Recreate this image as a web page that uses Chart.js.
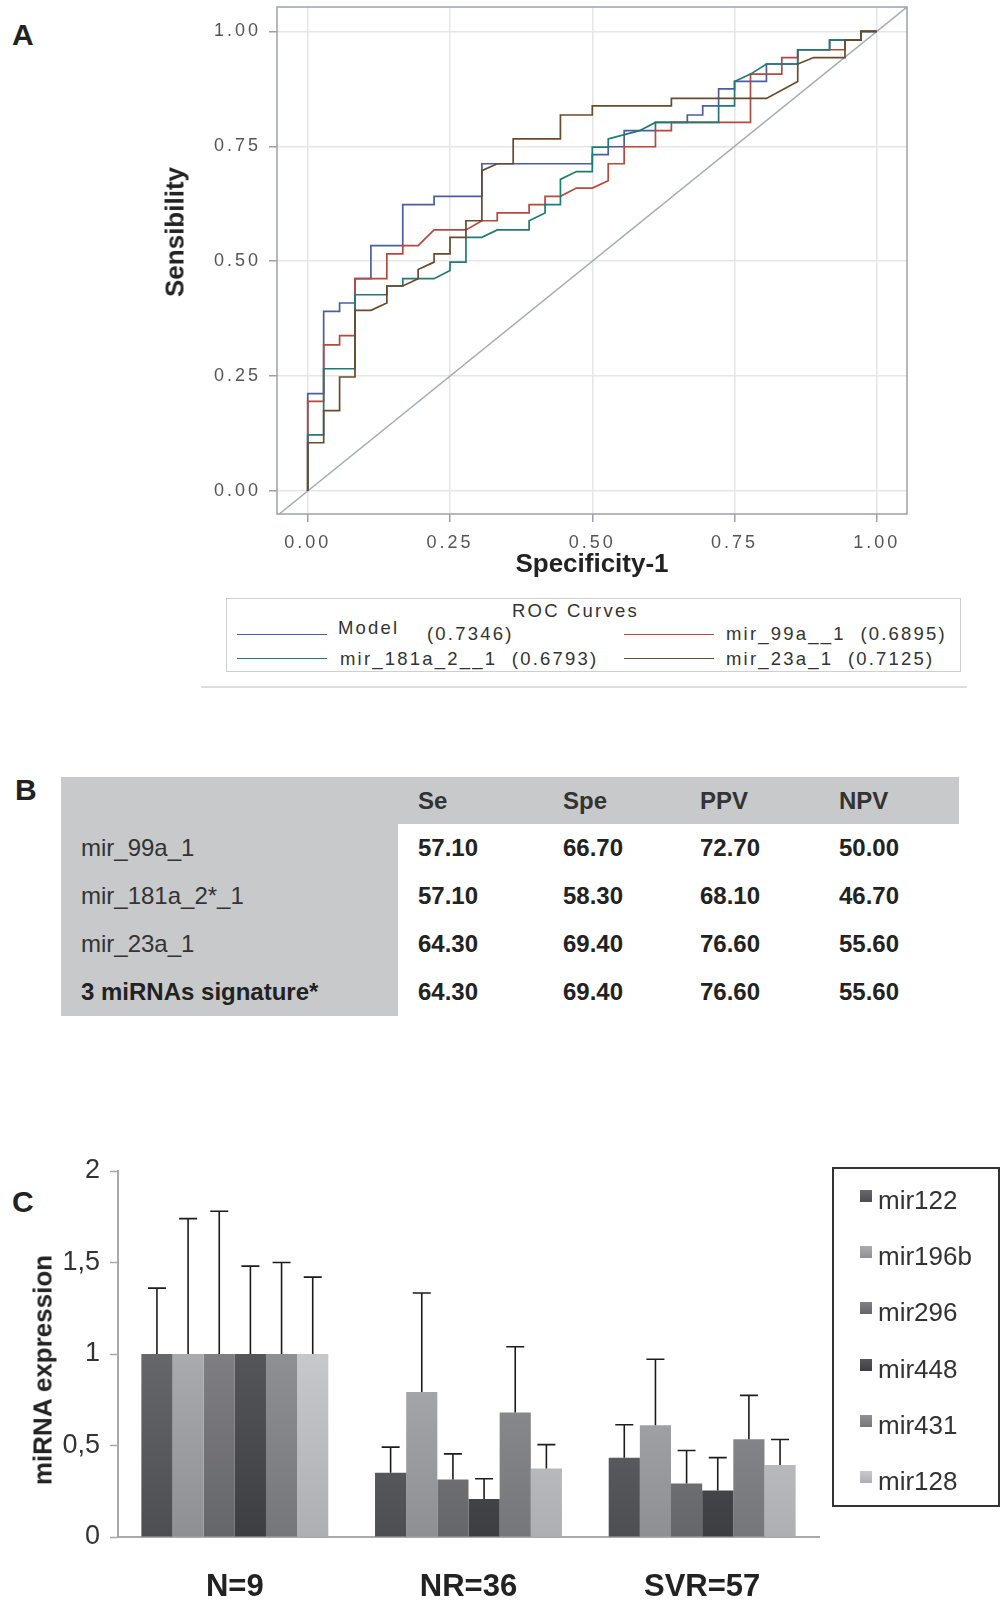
<!DOCTYPE html>
<html lang="en">
<head>
<meta charset="UTF-8">
<title>miRNA ROC curves, performance table and expression</title>
<style>
  body { margin: 0; background: #fff; font-family: "Liberation Sans", Arial, sans-serif; }
  #page { position: relative; width: 1006px; height: 1602px; overflow: hidden; }
  canvas { position: absolute; left: 0; }
  .txt { position: absolute; white-space: nowrap; }
  .letter { font-weight: bold; font-size: 30px; color: #222; line-height: 34px; }
  .vtitle { position: absolute; transform: translate(-50%, -50%) rotate(-90deg); font-weight: bold; color: #222; white-space: nowrap; }
  #perf { position: absolute; left: 61px; top: 777px; width: 898px; border-collapse: collapse; table-layout: fixed; color: #333; font-size: 24px; }
  #perf td { padding: 0 0 0 20px; vertical-align: middle; white-space: nowrap; }
  #perf tr.head td { height: 47px; background: #c8c9cb; font-weight: bold; }
  #perf tr.body td { height: 48px; font-weight: bold; color: #222; }
  #perf tr.body td.lab { background: #c8c9cb; font-weight: normal; color: #333; }
  #perf tr.body td.lab.strong { font-weight: bold; color: #222; }
  #barLegend { position: absolute; left: 832px; top: 1167px; width: 168px; height: 340px; border: 2px solid #333; box-sizing: border-box; }
</style>
<script src="https://cdn.jsdelivr.net/npm/chart.js"></script>
</head>
<body>
<div id="page">
  <div class="txt letter" style="left:12px; top:18px;">A</div>
  <div class="txt letter" style="left:15px; top:773px;">B</div>
  <div class="txt letter" style="left:12px; top:1185px;">C</div>

  <canvas id="rocChart" width="1006" height="595" style="top:0;"></canvas>
  <div class="vtitle" style="left:175px; top:232px; font-size:26px;">Sensibility</div>
  <div id="rocLegend"></div>
  <div style="position:absolute; left:201px; top:686px; width:766px; border-top:2px solid #dedede;"></div>

  <table id="perf"></table>

  <canvas id="barChart" width="1006" height="502" style="top:1100px;"></canvas>
  <div class="vtitle" style="left:43px; top:1370px; font-size:26px;">miRNA expression</div>
  <div id="barLegend"></div>
</div>

<script>
  Chart.defaults.font.family = '"Liberation Sans", Arial, sans-serif';

  // ---- A: ROC curves (false positive rate vs true positive rate)
  const rocNames = ['Model', 'mir_99a__1', 'mir_181a_2__1', 'mir_23a_1'];
  const rocAuc = ['0.7346', '0.6895', '0.6793', '0.7125'];
  const rocColors = ['#4a5da5', '#b8473d', '#1f7b71', '#6a4a2c'];

  const modelFpr = [0, 0, .028, .028, .056, .056, .083, .083, .111, .111, .167, .167, .222, .222, .306, .306, .5, .5, .528, .528, .556, .556, .611, .611, .667, .667, .694, .694, .722, .722, .75, .75, .806, .806, .861, .861, .917, .917, .972, .972, 1];
  const modelTpr = [0, .212, .212, .391, .391, .409, .409, .462, .462, .534, .534, .623, .623, .641, .641, .712, .712, .732, .732, .749, .749, .784, .784, .802, .802, .818, .818, .838, .838, .875, .875, .891, .891, .929, .929, .96, .96, .981, .981, 1, 1];

  const mir99aFpr = [0, 0, .028, .028, .056, .056, .083, .083, .139, .139, .167, .167, .194, .222, .278, .306, .333, .333, .389, .389, .417, .417, .444, .472, .5, .528, .528, .556, .556, .611, .611, .639, .639, .778, .778, .833, .833, .861, .861, .944, .944, .972, .972, 1];
  const mir99aTpr = [0, .195, .195, .318, .318, .338, .338, .462, .462, .516, .516, .534, .534, .568, .568, .588, .588, .605, .605, .623, .623, .641, .641, .659, .659, .675, .712, .712, .749, .749, .784, .784, .802, .802, .907, .907, .943, .943, .96, .96, .981, .981, 1, 1];

  const mir181aFpr = [0, 0, .028, .028, .083, .083, .139, .139, .167, .167, .222, .25, .25, .278, .278, .306, .333, .389, .389, .417, .417, .444, .444, .472, .5, .5, .528, .528, .583, .611, .722, .722, .75, .75, .778, .806, .861, .861, .917, .917, .972, .972, 1];
  const mir181aTpr = [0, .122, .122, .266, .266, .427, .427, .446, .446, .462, .462, .48, .498, .498, .552, .552, .568, .568, .588, .605, .623, .623, .678, .695, .695, .748, .748, .766, .784, .802, .802, .838, .838, .891, .907, .929, .929, .96, .96, .981, .981, 1, 1];

  const mir23aFpr = [0, 0, .028, .028, .056, .056, .083, .083, .111, .139, .139, .167, .194, .194, .222, .222, .25, .25, .278, .278, .306, .306, .333, .361, .361, .444, .444, .5, .5, .639, .639, .806, .861, .861, .889, .944, .944, .972, .972, 1];
  const mir23aTpr = [0, .105, .105, .175, .175, .248, .248, .393, .393, .409, .446, .446, .462, .482, .498, .516, .516, .552, .552, .588, .588, .697, .712, .712, .766, .766, .818, .818, .838, .838, .854, .854, .891, .929, .943, .943, .981, .981, 1, 1];

  const rocFpr = [modelFpr, mir99aFpr, mir181aFpr, mir23aFpr];
  const rocTpr = [modelTpr, mir99aTpr, mir181aTpr, mir23aTpr];
  const rocTicks = [0, 0.25, 0.5, 0.75, 1];
  const rocXRange = [-0.054, 1.053];
  const rocYRange = [-0.05, 1.053];

  // ---- B: performance table
  const perfHeaders = ['Se', 'Spe', 'PPV', 'NPV'];
  const perfRows = ['mir_99a_1', 'mir_181a_2*_1', 'mir_23a_1', '3 miRNAs signature*'];
  const perfSe = ['57.10', '57.10', '64.30', '64.30'];
  const perfSpe = ['66.70', '58.30', '69.40', '69.40'];
  const perfPpv = ['72.70', '68.10', '76.60', '76.60'];
  const perfNpv = ['50.00', '46.70', '55.60', '55.60'];

  // ---- C: expression by group (mean and upper error)
  const groups = ['N=9', 'NR=36', 'SVR=57'];
  const mirs = ['mir122', 'mir196b', 'mir296', 'mir448', 'mir431', 'mir128'];
  const mir122 = [1, 0.351, 0.433];
  const mir196b = [1, 0.793, 0.611];
  const mir296 = [1, 0.314, 0.293];
  const mir448 = [1, 0.208, 0.254];
  const mir431 = [1, 0.680, 0.534];
  const mir128 = [1, 0.375, 0.393];
  const err122 = [0.36, 0.14, 0.18];
  const err196b = [0.74, 0.54, 0.36];
  const err296 = [0.78, 0.14, 0.18];
  const err448 = [0.48, 0.11, 0.18];
  const err431 = [0.50, 0.36, 0.24];
  const err128 = [0.42, 0.13, 0.14];
  const exprTicks = [0, 0.5, 1, 1.5, 2];

  const exprMeans = [mir122, mir196b, mir296, mir448, mir431, mir128];
  const exprErrs = [err122, err196b, err296, err448, err431, err128];
  const barTop = ['#67686c', '#abacb0', '#807f84', '#56575b', '#909195', '#c8c9cc'];
  const barBottom = ['#4d4e52', '#8e8f93', '#65666a', '#3d3e42', '#75767a', '#aeafb3'];

  // ROC tick labels are drawn widely spaced, like the SAS output
  function spacedLabels(scale) {
    if (scale._spaced) return;
    const draw = scale.drawLabels.bind(scale);
    scale.drawLabels = function (area) {
      const c = this.ctx;
      c.letterSpacing = '3px';
      draw(area);
      c.letterSpacing = '0px';
    };
    scale._spaced = true;
  }

  const frame = {
    id: 'frame',
    afterDatasetsDraw(chart) {
      const { ctx, chartArea: a } = chart;
      ctx.save();
      ctx.strokeStyle = '#9aa2ab';
      ctx.lineWidth = 1.5;
      ctx.strokeRect(a.left, a.top, a.right - a.left, a.bottom - a.top);
      ctx.restore();
    }
  };

  const rocSets = rocNames.map((name, k) => ({
    label: name,
    data: rocFpr[k].map((x, i) => ({ x: x, y: rocTpr[k][i] })),
    showLine: true,
    borderColor: rocColors[k],
    borderWidth: 1.7,
    pointRadius: 0,
    order: 4 - k
  }));
  rocSets.push({
    label: 'chance',
    data: [{ x: rocXRange[0] - 0.01, y: rocXRange[0] - 0.01 }, { x: rocXRange[1] + 0.01, y: rocXRange[1] + 0.01 }],
    showLine: true,
    borderColor: '#a2aab3',
    borderWidth: 1.4,
    pointRadius: 0,
    order: 10
  });

  const tickFont = { family: '"Liberation Sans", Arial, sans-serif', size: 18 };
  const titleFont = { family: '"Liberation Sans", Arial, sans-serif', size: 26, weight: 'bold' };

  new Chart(document.getElementById('rocChart'), {
    type: 'scatter',
    data: { datasets: rocSets },
    options: {
      responsive: false,
      animation: false,
      layout: { padding: { left: 156, right: 99, top: 7, bottom: 15 } },
      plugins: { legend: { display: false }, tooltip: { enabled: false } },
      scales: {
        x: {
          type: 'linear',
          min: rocXRange[0],
          max: rocXRange[1],
          afterBuildTicks: s => { s.ticks = rocTicks.map(v => ({ value: v })); },
          afterFit: s => { s.height = 66; s.paddingLeft = 0; s.paddingRight = 0; },
          afterUpdate: spacedLabels,
          grid: { color: '#e6e6e6', lineWidth: 1.5, tickColor: '#9aa2ab', tickLength: 8, tickWidth: 1.5 },
          border: { display: false },
          ticks: { padding: 10, color: '#555', font: tickFont, maxRotation: 0, autoSkip: false, callback: v => v.toFixed(2) },
          title: { display: true, text: 'Specificity-1', color: '#222', font: titleFont, padding: 0 }
        },
        y: {
          type: 'linear',
          min: rocYRange[0],
          max: rocYRange[1],
          afterBuildTicks: s => { s.ticks = rocTicks.map(v => ({ value: v })); },
          afterFit: s => { s.width = 121; s.paddingTop = 0; s.paddingBottom = 0; },
          afterUpdate: spacedLabels,
          grid: { color: '#e6e6e6', lineWidth: 1.5, tickColor: '#9aa2ab', tickLength: 8, tickWidth: 1.5 },
          border: { display: false },
          ticks: { padding: 8, color: '#555', font: tickFont, autoSkip: false, callback: v => v.toFixed(2) },
          title: { display: false }
        }
      }
    },
    plugins: [frame]
  });

  // ROC legend (SAS style box)
  const page = document.getElementById('page');
  function put(text, x, cy, css) {
    const d = document.createElement('div');
    d.className = 'txt';
    d.textContent = text;
    d.style.cssText += 'left:' + x + 'px; top:' + (cy - 11) + 'px; line-height:22px;' + (css || '');
    page.appendChild(d);
    return d;
  }
  function hline(x, y, w, color, h) {
    const d = document.createElement('div');
    d.style.cssText = 'position:absolute; left:' + x + 'px; top:' + y + 'px; width:' + w + 'px; border-top:' + h + 'px solid ' + color + ';';
    page.appendChild(d);
  }
  const rocLegend = document.getElementById('rocLegend');
  rocLegend.style.cssText = 'position:absolute; left:226px; top:598px; width:735px; height:74px; border:1.5px solid #cfcfcf; box-sizing:border-box;';
  const legCss = 'font-size:18.5px; letter-spacing:2.2px; color:#333;';
  put('ROC Curves', 512, 611, legCss);
  const legSlots = [
    { lx: 237, ly: 635, name: [338, 628], auc: [427, 634] },
    { lx: 624, ly: 635, name: [726, 634] },
    { lx: 237, ly: 659, name: [340, 659] },
    { lx: 624, ly: 659, name: [726, 659] }
  ];
  legSlots.forEach((s, k) => {
    hline(s.lx, s.ly - 1, 90, rocColors[k], 1.7);
    if (s.auc) {
      put(rocNames[k], s.name[0], s.name[1], legCss);
      put('(' + rocAuc[k] + ')', s.auc[0], s.auc[1], legCss);
    } else {
      put(rocNames[k] + '  (' + rocAuc[k] + ')', s.name[0], s.name[1], legCss + 'white-space:pre;');
    }
  });

  // ---- B table
  const perf = document.getElementById('perf');
  const colW = [337, 145, 137, 139, 140];
  let html = '<colgroup>' + colW.map(w => '<col style="width:' + w + 'px">').join('') + '</colgroup>';
  html += '<tr class="head"><td></td>' + perfHeaders.map(h => '<td>' + h + '</td>').join('') + '</tr>';
  perfRows.forEach((r, i) => {
    const strong = i === perfRows.length - 1 ? ' strong' : '';
    html += '<tr class="body"><td class="lab' + strong + '">' + r + '</td><td>' + perfSe[i] + '</td><td>' + perfSpe[i] +
      '</td><td>' + perfPpv[i] + '</td><td>' + perfNpv[i] + '</td></tr>';
  });
  perf.innerHTML = html;

  // ---- C bar chart with error bars
  const errorBars = {
    id: 'errorBars',
    afterDatasetsDraw(chart) {
      const { ctx, scales: { y } } = chart;
      ctx.save();
      ctx.strokeStyle = '#1c1c1c';
      ctx.lineWidth = 1.6;
      chart.data.datasets.forEach((ds, i) => {
        chart.getDatasetMeta(i).data.forEach((bar, j) => {
          const top = y.getPixelForValue(ds.data[j] + exprErrs[i][j]);
          ctx.beginPath();
          ctx.moveTo(bar.x, bar.y);
          ctx.lineTo(bar.x, top);
          ctx.moveTo(bar.x - 9, top);
          ctx.lineTo(bar.x + 9, top);
          ctx.stroke();
        });
      });
      ctx.restore();
    }
  };

  function barFill(k) {
    return c => {
      const ch = c.chart, a = ch.chartArea;
      if (!a) return barTop[k];
      const g = ch.ctx.createLinearGradient(0, a.bottom, 0, ch.scales.y.getPixelForValue(1.05));
      g.addColorStop(0, barBottom[k]);
      g.addColorStop(1, barTop[k]);
      return g;
    };
  }

  new Chart(document.getElementById('barChart'), {
    type: 'bar',
    data: {
      labels: groups,
      datasets: mirs.map((m, k) => ({
        label: m,
        data: exprMeans[k],
        backgroundColor: barFill(k),
        borderWidth: 0,
        categoryPercentage: 0.8,
        barPercentage: 1.0
      }))
    },
    options: {
      responsive: false,
      animation: false,
      layout: { padding: { left: 58, right: 187, top: 71, bottom: 0 } },
      plugins: { legend: { display: false }, tooltip: { enabled: false } },
      scales: {
        x: {
          grid: { display: false, drawTicks: false },
          border: { color: '#a9a9a9', width: 2 },
          afterFit: s => { s.height = 65; },
          ticks: { padding: 32, color: '#222', font: { size: 31, weight: 'bold' } }
        },
        y: {
          min: 0,
          max: 2,
          afterBuildTicks: s => { s.ticks = exprTicks.map(v => ({ value: v })); },
          afterFit: s => { s.width = 60; s.paddingTop = 0; },
          grid: { drawOnChartArea: false, tickLength: 8, tickColor: '#a9a9a9', tickWidth: 1.5 },
          border: { color: '#a9a9a9', width: 2 },
          ticks: { padding: 10, color: '#333', font: { size: 27 }, callback: v => String(v).replace('.', ',') },
          title: { display: false }
        }
      }
    },
    plugins: [errorBars]
  });

  // C legend
  mirs.forEach((m, k) => {
    const cy = 1200 + k * 56.2;
    const sw = document.createElement('div');
    sw.style.cssText = 'position:absolute; left:860px; top:' + (cy - 10) + 'px; width:12px; height:12px; background:linear-gradient(' + barTop[k] + ',' + barBottom[k] + ');';
    page.appendChild(sw);
    put(m, 878, cy, 'font-size:26px; color:#333;');
  });
</script>
</body>
</html>
